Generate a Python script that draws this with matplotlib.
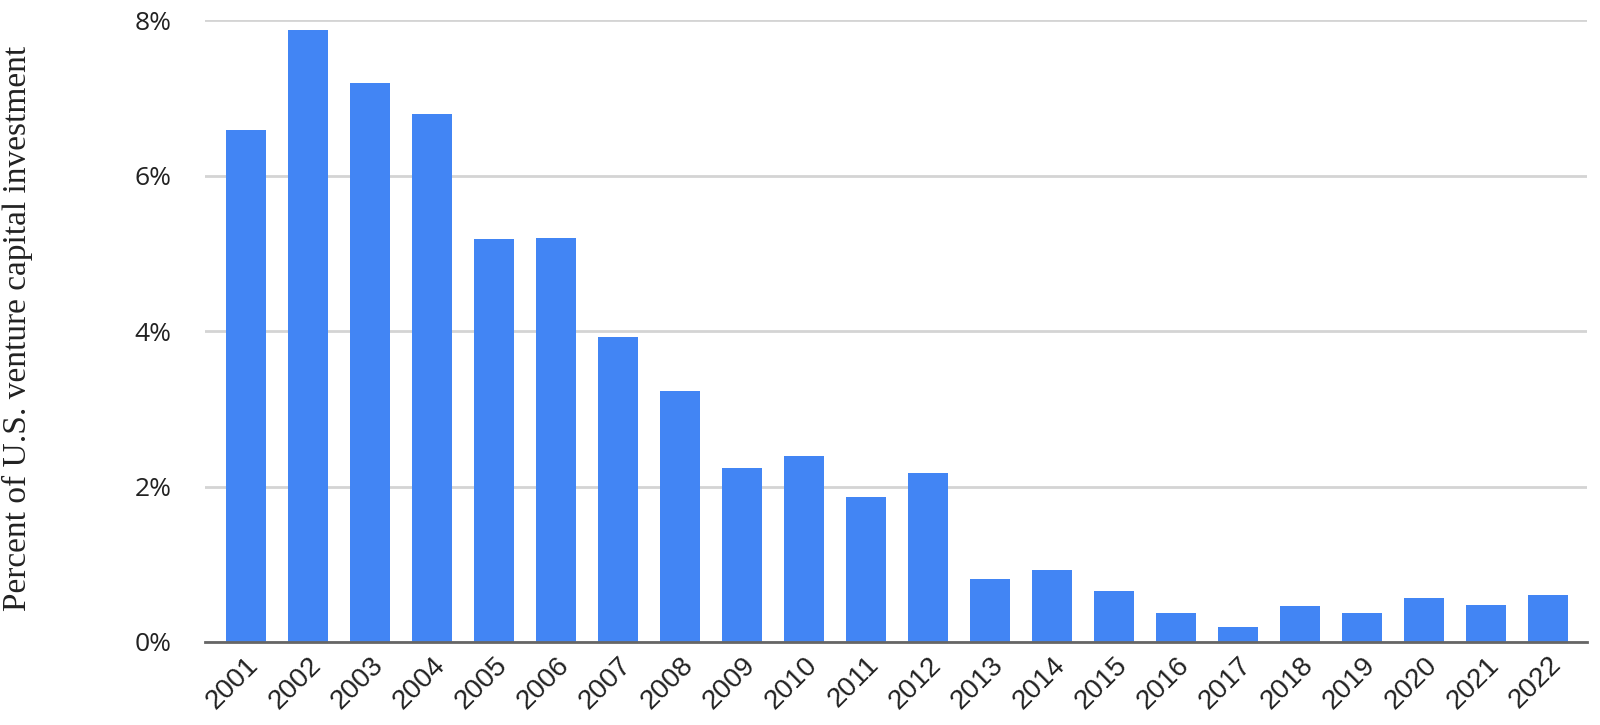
import matplotlib.pyplot as plt
from matplotlib.ticker import FuncFormatter
from matplotlib.transforms import ScaledTranslation

years = [str(y) for y in range(2001, 2023)]
share = [6.59, 7.88, 7.19, 6.80, 5.18, 5.20, 3.93, 3.23, 2.24, 2.39, 1.87,
         2.17, 0.81, 0.93, 0.66, 0.37, 0.19, 0.46, 0.37, 0.57, 0.48, 0.60]
yticks = [0, 2, 4, 6, 8]

fig = plt.figure(figsize=(16, 7.25), dpi=100)
ax = fig.add_axes([0.128, 0.1145, 0.864, 0.8575])

x = range(len(years))
ax.bar(x, share, width=0.64, color="#4285f4", zorder=3)

ax.set_xlim(-0.66, 21.63)
ax.set_ylim(0, 8)
ax.set_yticks(yticks)
ax.yaxis.set_major_formatter(FuncFormatter(lambda v, p: f"{v:.0f}%"))
ax.grid(axis="y", color="#d4d4d4", linewidth=2, zorder=0)
ax.set_xticks(list(x))
ax.set_xticklabels(years, rotation=45, ha="right", rotation_mode="anchor",
                   fontfamily="Liberation Sans", fontsize=20, color="#222222")
shift = ScaledTranslation(14 / 100, 0, fig.dpi_scale_trans)
for lab in ax.get_xticklabels():
    lab.set_transform(lab.get_transform() + shift)
for lab in ax.get_yticklabels():
    lab.set_fontfamily("Open Sans")
    lab.set_fontsize(19)
    lab.set_color("#222222")
ax.tick_params(axis="y", length=0, pad=24)
ax.tick_params(axis="x", length=0, pad=7)

for s in ["top", "right", "left"]:
    ax.spines[s].set_visible(False)
ax.spines["bottom"].set_color("#666666")
ax.spines["bottom"].set_linewidth(2)
ax.spines["bottom"].set_zorder(4)

ax.set_ylabel("Percent of U.S. venture capital investment", fontfamily="Liberation Serif",
              fontsize=24, color="#222222")
ax.yaxis.set_label_coords(-0.1245, 0.505)

fig.savefig("out.png", dpi=100)
